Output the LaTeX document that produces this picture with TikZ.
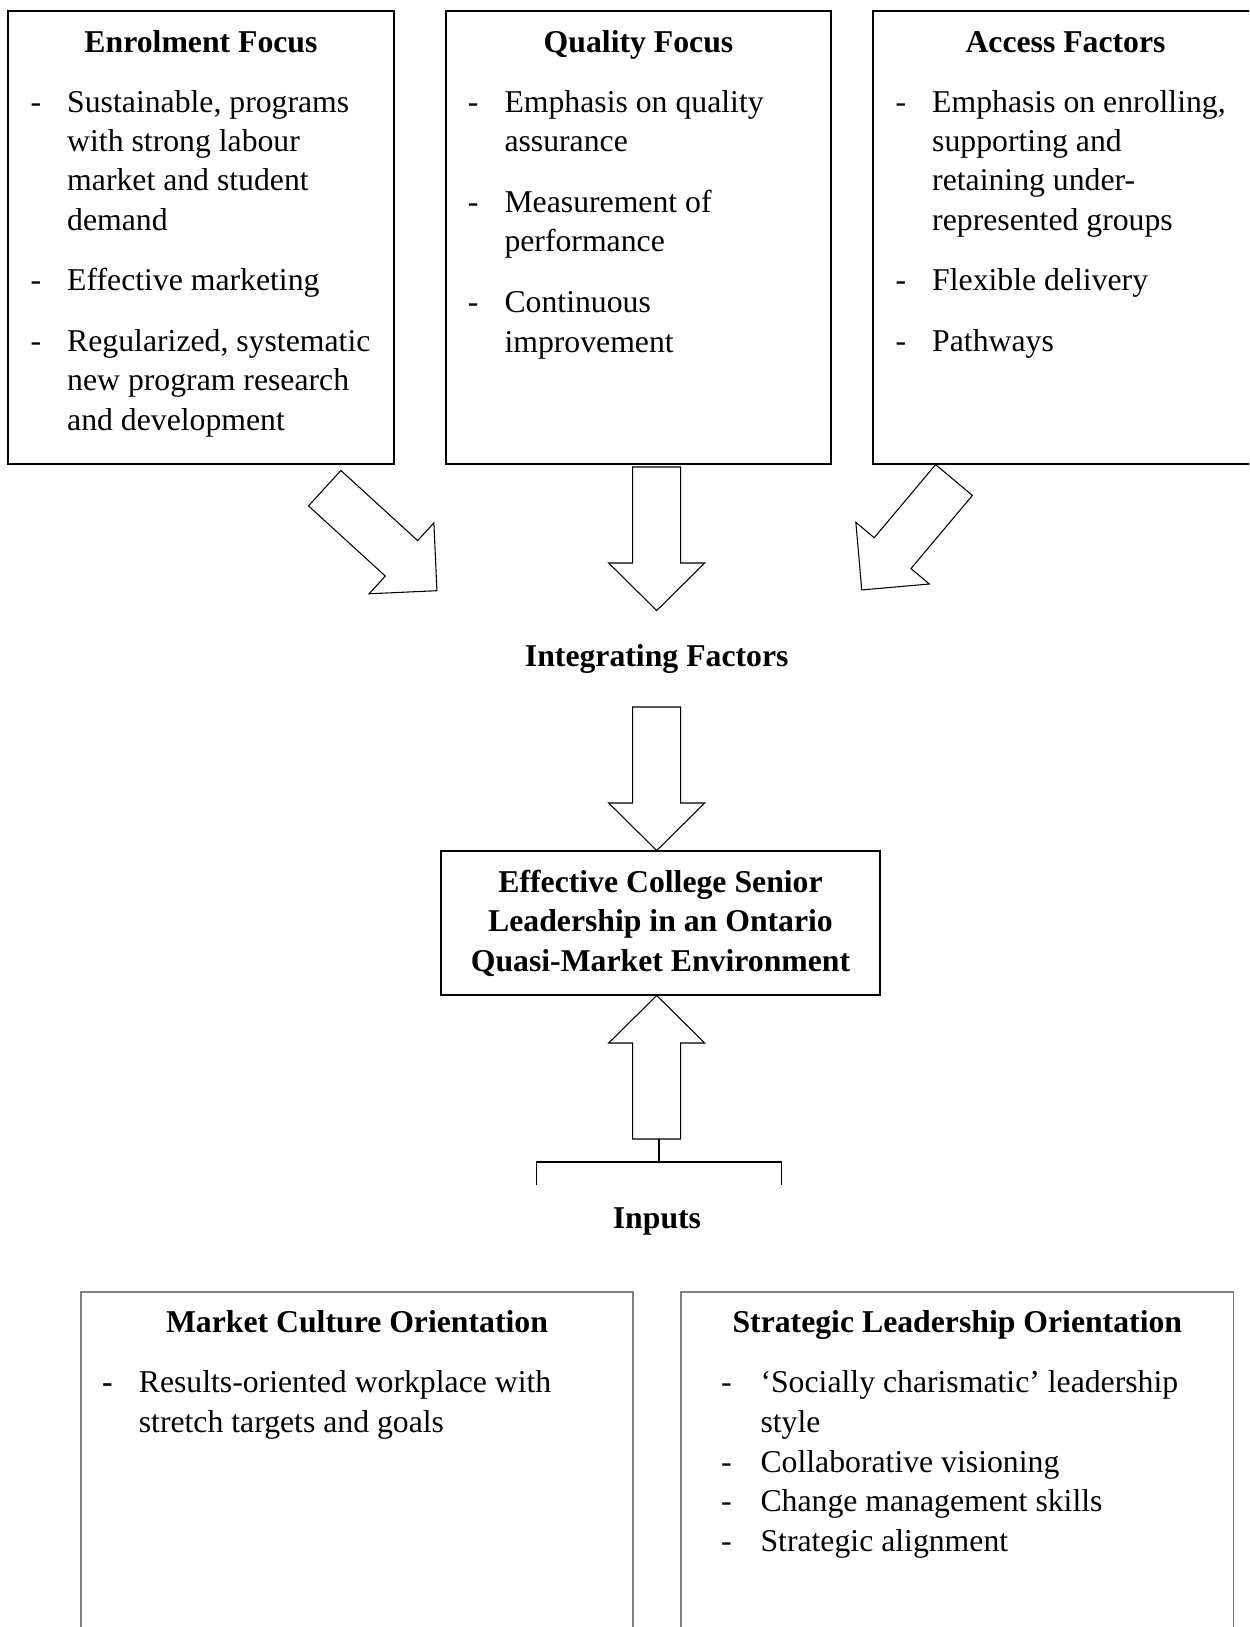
\documentclass[tikz,border=0pt]{standalone}
\usepackage{fontspec}
\setmainfont{Liberation Serif}
\usetikzlibrary{fit}
\newcommand\myfs{\fontsize{11.9}{14.8}\selectfont}
\begin{document}
\begin{tikzpicture}[x=0.375pt,y=-0.375pt,
  ttl/.style={anchor=base,inner sep=0pt,font=\myfs\bfseries},
  ln/.style={anchor=base west,inner sep=0pt,font=\myfs},
  topbox/.style={draw=black,line width=0.7pt,inner sep=0pt},
  botbox/.style={draw=black!50,line width=0.55pt,inner sep=0pt},
  blockarrow/.style={draw=black,line width=0.4pt,fill=white,line join=miter},
  thinline/.style={draw=black,line width=0.45pt}]
\useasboundingbox (0,0) rectangle (1249,1627);
\clip (0,0) rectangle (1249,1627);

% ---------- boxes ----------
\coordinate (enrA) at (8,11);     \coordinate (enrB) at (394,464);
\coordinate (quaA) at (446,11);   \coordinate (quaB) at (831,464);
\coordinate (accA) at (873,11);   \coordinate (accB) at (1258,464);
\coordinate (cenA) at (441,851);  \coordinate (cenB) at (880,995);
\coordinate (mktA) at (81,1292);  \coordinate (mktB) at (633,1660);
\coordinate (strA) at (681,1292); \coordinate (strB) at (1233.5,1660);
\node[topbox,fit=(enrA)(enrB)] (enr) {};
\node[topbox,fit=(quaA)(quaB)] (qua) {};
\node[topbox,fit=(accA)(accB)] (acc) {};
\node[topbox,fit=(cenA)(cenB)] (cen) {};
\node[botbox,fit=(mktA)(mktB)] (mkt) {};
\node[botbox,fit=(strA)(strB)] (str) {};

% ---------- Enrolment Focus ----------
\node[ttl] (enrT) at (201,52) {Enrolment Focus};
\node[ln] (enrD1) at (30,112) {-};
\node[ln] (enr1) at (66.7,112) {Sustainable, programs};
\node[ln] (enr2) at (66.7,151.4) {with strong labour};
\node[ln] (enr3) at (66.7,190.8) {market and student};
\node[ln] (enr4) at (66.7,230.2) {demand};
\node[ln] (enrD2) at (30,290.5) {-};
\node[ln] (enr5) at (66.7,290.5) {Effective marketing};
\node[ln] (enrD3) at (30,351.5) {-};
\node[ln] (enr6) at (66.7,351.5) {Regularized, systematic};
\node[ln] (enr7) at (66.7,390.9) {new program research};
\node[ln] (enr8) at (66.7,430.3) {and development};

% ---------- Quality Focus ----------
\node[ttl] (quaT) at (638.5,52) {Quality Focus};
\node[ln] (quaD1) at (467.3,112) {-};
\node[ln] (qua1) at (504,112) {Emphasis on quality};
\node[ln] (qua2) at (504,151.4) {assurance};
\node[ln] (quaD2) at (467.3,212.3) {-};
\node[ln] (qua3) at (504,212.3) {Measurement of};
\node[ln] (qua4) at (504,251.7) {performance};
\node[ln] (quaD3) at (467.3,312.6) {-};
\node[ln] (qua5) at (504,312.6) {Continuous};
\node[ln] (qua6) at (504,352) {improvement};

% ---------- Access Factors ----------
\node[ttl] (accT) at (1065.5,52) {Access Factors};
\node[ln] (accD1) at (895,112) {-};
\node[ln] (acc1) at (931.7,112) {Emphasis on enrolling,};
\node[ln] (acc2) at (931.7,151.4) {supporting and};
\node[ln] (acc3) at (931.7,190.8) {retaining under-};
\node[ln] (acc4) at (931.7,230.2) {represented groups};
\node[ln] (accD2) at (895,290.5) {-};
\node[ln] (acc5) at (931.7,290.5) {Flexible delivery};
\node[ln] (accD3) at (895,351.5) {-};
\node[ln] (acc6) at (931.7,351.5) {Pathways};

% ---------- block arrows into Integrating Factors ----------
\draw[blockarrow,shift={(324.7,488.2)},rotate=-42.4]
  (0,-24) -- (104,-24) -- (104,-48) -- (152,0) -- (104,48) -- (104,24) -- (0,24) -- cycle;
\draw[blockarrow,shift={(656.7,467)},rotate=-90]
  (0,-24) -- (96,-24) -- (96,-48) -- (143.5,0) -- (96,48) -- (96,24) -- (0,24) -- cycle;
\draw[blockarrow,shift={(954,480)},rotate=-130]
  (0,-24) -- (95.5,-24) -- (95.5,-48) -- (143.5,0) -- (95.5,48) -- (95.5,24) -- (0,24) -- cycle;

\node[ttl] (integ) at (656.7,666.7) {Integrating Factors};

\draw[blockarrow,shift={(656.7,707)},rotate=-90]
  (0,-24) -- (96,-24) -- (96,-48) -- (143.5,0) -- (96,48) -- (96,24) -- (0,24) -- cycle;

% ---------- central box text ----------
\node[ttl] (cen1) at (660.5,892.3) {Effective College Senior};
\node[ttl] (cen2) at (660.5,931.7) {Leadership in an Ontario};
\node[ttl] (cen3) at (660.5,971) {Quasi-Market Environment};

% ---------- up arrow and bracket ----------
\draw[blockarrow,shift={(656.7,1139)},rotate=90]
  (0,-24) -- (96,-24) -- (96,-48) -- (143.5,0) -- (96,48) -- (96,24) -- (0,24) -- cycle;
\coordinate (stemT) at (659,1139);
\coordinate (stemB) at (659,1162);
\coordinate (brL) at (536.7,1162);
\coordinate (brR) at (781.7,1162);
\coordinate (brLd) at (536.7,1185);
\coordinate (brRd) at (781.7,1185);
\draw[thinline] (stemT) -- (stemB);
\draw[thinline] (brLd) -- (brL) -- (brR) -- (brRd);

\node[ttl] (inputs) at (657,1228) {Inputs};

% ---------- Market Culture Orientation ----------
\node[ttl] (mktT) at (357,1332.3) {Market Culture Orientation};
\node[ln,font=\myfs\bfseries] (mktD1) at (101.7,1392.7) {-};
\node[ln] (mkt1) at (138.3,1392.7) {Results-oriented workplace with};
\node[ln] (mkt2) at (138.3,1432.4) {stretch targets and goals};

% ---------- Strategic Leadership Orientation ----------
\node[ttl] (strT) at (957.3,1332.3) {Strategic Leadership Orientation};
\node[ln] (strD1) at (720.7,1392.7) {-};
\node[ln] (str1) at (760,1392.7) {‘Socially charismatic’ leadership};
\node[ln] (str2) at (760,1432.4) {style};
\node[ln] (strD2) at (720.7,1472.1) {-};
\node[ln] (str3) at (760,1472.1) {Collaborative visioning};
\node[ln] (strD3) at (720.7,1511.8) {-};
\node[ln] (str4) at (760,1511.8) {Change management skills};
\node[ln] (strD4) at (720.7,1551.5) {-};
\node[ln] (str5) at (760,1551.5) {Strategic alignment};
\end{tikzpicture}
\end{document}
